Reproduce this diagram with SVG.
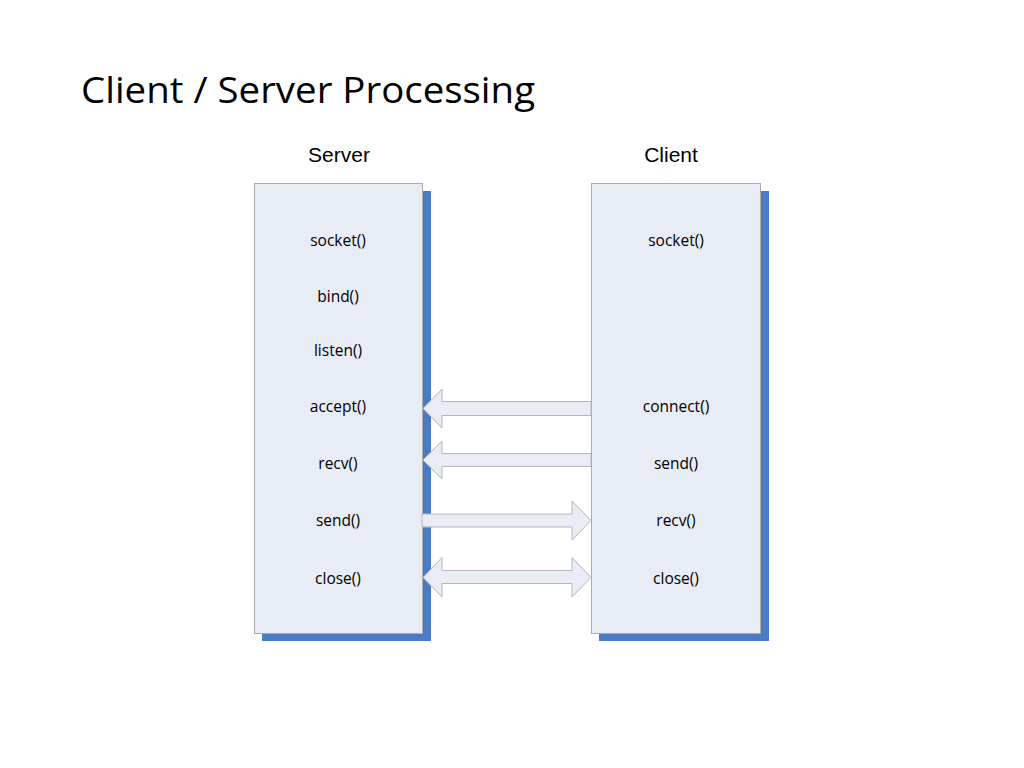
<svg xmlns="http://www.w3.org/2000/svg" width="1024" height="768" viewBox="0 0 1024 768">
<style>
.title{font-family:"Open Sans","Liberation Sans",sans-serif;font-size:37px;fill:#000}
.head{font-family:"Liberation Sans",Arial,sans-serif;font-size:21px;fill:#000;text-anchor:middle}
.lbl{font-family:"Open Sans","Liberation Sans",sans-serif;font-size:15.5px;fill:#000;text-anchor:middle}
.box{fill:#E8ECF5;stroke:#ABABAB;stroke-width:1}
.shadow{fill:#4A7BC4}
.arr{fill:#E9ECF4;stroke:#B2B6BE;stroke-width:1}
</style>
<rect width="1024" height="768" fill="#fff"/>
<text class="title" x="81" y="103" textLength="454" lengthAdjust="spacingAndGlyphs">Client / Server Processing</text>
<text class="head" x="339" y="162">Server</text>
<text class="head" x="671" y="162">Client</text>
<g id="server">
<rect class="shadow" x="262" y="191" width="169" height="450"/>
<rect class="box" x="254.5" y="183.5" width="168" height="450"/>
<text class="lbl" x="338" y="246">socket()</text>
<text class="lbl" x="338" y="302">bind()</text>
<text class="lbl" x="338" y="356">listen()</text>
<text class="lbl" x="338" y="412">accept()</text>
<text class="lbl" x="338" y="469">recv()</text>
<text class="lbl" x="338" y="526">send()</text>
<text class="lbl" x="338" y="584">close()</text>
</g>
<g id="client">
<rect class="shadow" x="599" y="191" width="170" height="450"/>
<rect class="box" x="591.5" y="183.5" width="169" height="450"/>
<text class="lbl" x="676" y="246">socket()</text>
<text class="lbl" x="676" y="412">connect()</text>
<text class="lbl" x="676" y="469">send()</text>
<text class="lbl" x="676" y="526">recv()</text>
<text class="lbl" x="676" y="584">close()</text>
</g>
<g id="connectors">
<path class="arr" d="M591,401.5 L442,401.5 L442,389 L423,408.5 L442,428 L442,415.5 L591,415.5 Z"/>
<path class="arr" d="M591,453.5 L442,453.5 L442,441 L423,460 L442,479 L442,466.5 L591,466.5 Z"/>
<path class="arr" d="M422,514 L572,514 L572,501 L591,520.5 L572,540 L572,527 L422,527 Z"/>
<path class="arr" d="M442,570.5 L572,570.5 L572,557.5 L591,577.5 L572,597 L572,583.5 L442,583.5 L442,597 L423,577.5 L442,557.5 Z"/>
</g>
</svg>
